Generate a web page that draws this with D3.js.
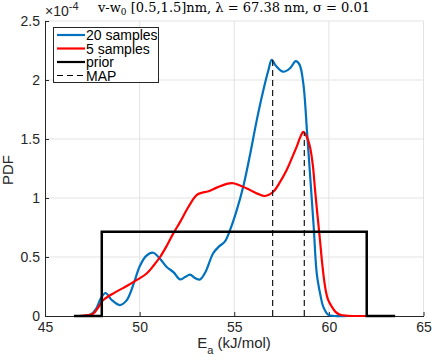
<!DOCTYPE html>
<html><head><meta charset="utf-8">
<script src="https://cdn.jsdelivr.net/npm/d3@7"></script>
<style>body{margin:0;background:#fff}svg{display:block}</style>
</head><body>
<svg id="c" width="432" height="360"></svg>
<script>
// Data (PDF values in units of 1e-4)
const blue20 = [[47.0,0],[47.4,0.01],[47.7,0.06],[47.95,0.15],[48.2,0.195],[48.5,0.14],[48.95,0.093],[49.3,0.13],[49.7,0.28],[50.0,0.42],[50.35,0.51],[50.72,0.536],[51.1,0.48],[51.43,0.415],[51.8,0.37],[52.13,0.31],[52.4,0.33],[52.66,0.35],[52.95,0.32],[53.19,0.31],[53.5,0.38],[53.88,0.53],[54.2,0.59],[54.5,0.63],[54.78,0.73],[55.1,0.88],[55.48,1.10],[55.85,1.38],[56.19,1.66],[56.54,1.915],[56.8,2.08],[56.98,2.17],[57.2,2.12],[57.59,2.07],[57.95,2.10],[58.25,2.16],[58.45,2.13],[58.65,1.97],[58.85,1.55],[59.0,1.21],[59.2,0.75],[59.36,0.36],[59.55,0.18],[59.7,0.08],[59.97,0.01],[60.3,0],[61,0]];
const red5 = [[46.8,0],[47.2,0.005],[47.55,0.02],[47.8,0.07],[48.08,0.135],[48.7,0.2],[49.32,0.254],[49.9,0.31],[50.37,0.36],[50.75,0.43],[51.08,0.50],[51.45,0.60],[51.78,0.70],[52.15,0.80],[52.49,0.90],[52.75,0.97],[53.01,1.025],[53.3,1.045],[53.6,1.055],[54.1,1.09],[54.6,1.12],[54.95,1.125],[55.4,1.10],[55.83,1.068],[56.25,1.035],[56.62,1.017],[57.06,1.053],[57.4,1.13],[57.77,1.237],[58.05,1.34],[58.3,1.435],[58.5,1.52],[58.65,1.56],[58.8,1.53],[59.0,1.435],[59.15,1.28],[59.27,1.068],[59.4,0.85],[59.53,0.644],[59.65,0.44],[59.8,0.248],[59.95,0.14],[60.15,0.08],[60.35,0.035],[60.6,0.01],[61.0,0.002],[62,0]];
const prior = [[46.53,0],[48,0],[48,0.714],[62,0.714],[62,0],[63.5,0]];
const mapX = [57.03, 58.7];
const mapY = [2.17, 1.56];
const xTicks = [45,50,55,60,65];
const yTicks = [0,0.5,1,1.5,2,2.5];
const legendLabels = ["20 samples","5 samples","prior","MAP"];

const svg = d3.select("#c");
const L=45, R=423.5, T=21, B=316;
const x = d3.scaleLinear().domain([45,65]).range([L,R]);
const y = d3.scaleLinear().domain([0,2.5]).range([B,T]);
const font = "'Liberation Sans', Arial, Helvetica, sans-serif";

// grid
const g = svg.append("g");
g.selectAll(".gx").data(xTicks.slice(1)).enter().append("line")
  .attr("x1",d=>x(d)).attr("x2",d=>x(d)).attr("y1",B).attr("y2",T)
  .attr("stroke","#e3e3e3").attr("stroke-width",1);
g.selectAll(".gy").data(yTicks.slice(1)).enter().append("line")
  .attr("x1",L).attr("x2",R).attr("y1",d=>y(d)).attr("y2",d=>y(d))
  .attr("stroke","#e3e3e3").attr("stroke-width",1);

// axes
const xAxis = d3.axisBottom(x).tickValues(xTicks).tickSizeInner(-4).tickSizeOuter(0).tickPadding(6);
const yAxis = d3.axisLeft(y).tickValues(yTicks).tickSizeInner(-4).tickSizeOuter(0).tickPadding(5).tickFormat(d3.format("~g"));
const gx = svg.append("g").attr("transform",`translate(0,${B})`).call(xAxis);
const gy = svg.append("g").attr("transform",`translate(${L},0)`).call(yAxis);
[gx,gy].forEach(a=>{
  a.selectAll("path,line").attr("stroke","#262626");
  a.selectAll("text").attr("fill","#262626").style("font-family",font).style("font-size","14px");
});

// curves
const line = d3.line().x(d=>x(d[0])).y(d=>y(d[1])).curve(d3.curveCatmullRom.alpha(0.5));
const lineL = d3.line().x(d=>x(d[0])).y(d=>y(d[1]));
svg.append("path").datum(blue20).attr("d",line).attr("fill","none").attr("stroke","#0072BD").attr("stroke-width",2.2);
svg.append("path").datum(red5).attr("d",line).attr("fill","none").attr("stroke","#FF0000").attr("stroke-width",2.2);
svg.append("path").datum(prior).attr("d",lineL).attr("fill","none").attr("stroke","#000").attr("stroke-width",2.5);
svg.selectAll(".map").data(mapX).enter().append("line")
  .attr("x1",d=>x(d)).attr("x2",d=>x(d)).attr("y1",y(0)).attr("y2",(d,i)=>y(mapY[i]))
  .attr("stroke","#000").attr("stroke-width",1.1).attr("stroke-dasharray","6,4");

// legend
const lg = svg.append("g");
lg.append("rect").attr("x",53.5).attr("y",27.5).attr("width",105).attr("height",55)
  .attr("fill","#fff").attr("stroke","#262626").attr("stroke-width",1);
const lcol = ["#0072BD","#FF0000","#000","#000"];
legendLabels.forEach((t,i)=>{
  const yy = 35 + i*13.5;
  lg.append("line").attr("x1",57).attr("x2",85).attr("y1",yy).attr("y2",yy)
    .attr("stroke",lcol[i]).attr("stroke-width",i==3?1.1:2.2).attr("stroke-dasharray",i==3?"6,4":null);
  lg.append("text").attr("x",86).attr("y",yy+5).text(t)
    .style("font-family",font).style("font-size","14px").attr("fill","#000");
});

// labels
const xl = svg.append("text").attr("x",234).attr("y",348).attr("text-anchor","middle")
  .style("font-family",font).style("font-size","15px").attr("fill","#262626");
xl.append("tspan").text("E");
xl.append("tspan").text("a").attr("dy",6).style("font-size","11px");
xl.append("tspan").text(" (kJ/mol)").attr("dy",-6);
svg.append("text").attr("transform","translate(13,170) rotate(-90)").attr("text-anchor","middle")
  .style("font-family",font).style("font-size","15px").attr("fill","#262626").text("PDF");

// exponent
const ex = svg.append("text").attr("x",45).attr("y",16).style("font-family",font).style("font-size","14px").attr("fill","#262626");
ex.append("tspan").text("×10");
ex.append("tspan").text("-4").attr("dy",-6).style("font-size","11px");

// title
const tt = svg.append("text").attr("x",234).attr("y",12).attr("text-anchor","middle")
  .style("font-family","'DejaVu Serif','Liberation Serif',serif").style("font-size","13px").attr("fill","#000");
tt.append("tspan").text("v-w");
tt.append("tspan").text("0").attr("dy",3).style("font-size","9px");
tt.append("tspan").text(" [0.5,1.5]nm, λ = 67.38 nm, σ = 0.01").attr("dy",-3);
</script>
</body></html>
